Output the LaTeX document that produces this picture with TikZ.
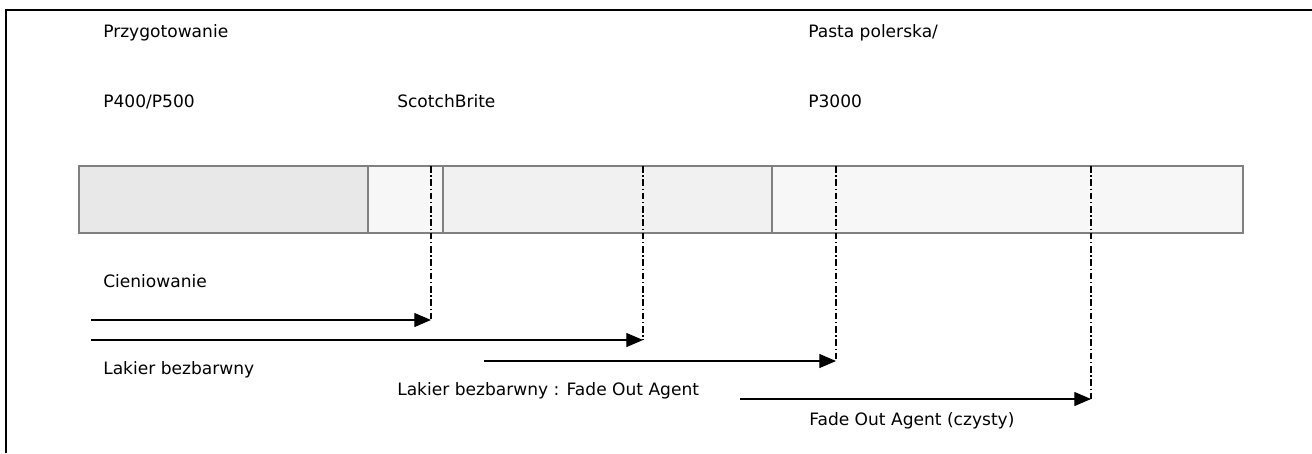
\documentclass[tikz,border=0pt]{standalone}
\usepackage{fontspec}
\setmainfont{DejaVu Sans}
\usetikzlibrary{arrows.meta}

\begin{document}
\begin{tikzpicture}[x=0.75pt, y=-0.75pt,
    lbl/.style={anchor=base west, inner sep=0pt, font=\fontsize{12.8}{15}\selectfont},
    arr/.style={line width=0.8pt, -{Triangle[length=12.5pt,width=10.5pt]}},
    ddot/.style={line width=0.8pt, dash pattern=on 5pt off 2pt on 1pt off 2pt}]
    \useasboundingbox (0,0) rectangle (1312,453);
    \draw[line width=1.8pt] (6,453) -- (6,10) -- (1312,10);

    % bar with the four steps
    \foreach \a/\b/\c in {79/368/gray!18, 368/443/gray!6, 443/772/gray!11, 772/1243/gray!6}
        \filldraw[fill=\c, draw=gray, line width=0.8pt] (\a,166) rectangle (\b,233);

    \node[lbl] (prep) at (103,37.5) {Przygotowanie};
    \node[lbl] (pasta) at (808,37.5) {Pasta polerska/};
    \node[lbl] (p400) at (103,108) {P400/P500};
    \node[lbl] (scotch) at (397,108) {ScotchBrite};
    \node[lbl] (p3000) at (808,108) {P3000};

    \node[lbl] (cien) at (103,287) {Cieniowanie};
    \node[lbl] (lak) at (103,374) {Lakier bezbarwny};
    \node[lbl] (lakfoa) at (397,395) {Lakier bezbarwny : Fade Out Agent};
    \node[lbl] (foa) at (809,425) {Fade Out Agent (czysty)};

    % arrows and their end marks
    \foreach \n/\xs/\xe/\y in {1/91/431/320, 2/91/643/340, 3/484/836/361, 4/740/1091/399} {
        \coordinate (s\n) at (\xs,\y);
        \coordinate (e\n) at (\xe,\y);
        \coordinate (t\n) at (\xe,166);
        \draw[arr] (s\n) -- (e\n);
        \draw[ddot] (t\n) -- (e\n);
    }
\end{tikzpicture}
\end{document}
